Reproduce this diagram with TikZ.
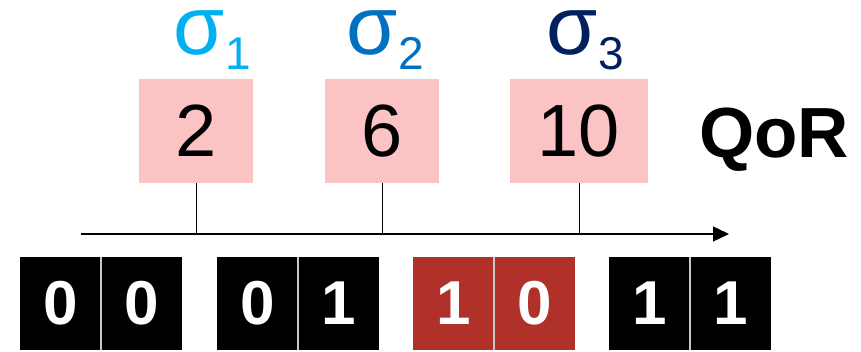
\documentclass[tikz,border=0pt]{standalone}
\usepackage{fontspec}
\setmainfont{Liberation Sans}
\usetikzlibrary{
  arrows.meta,
  positioning
}
\definecolor{qrSigA}{HTML}{00B0F0}
\definecolor{qrSigB}{HTML}{0070C0}
\definecolor{qrSigC}{HTML}{002060}
\definecolor{qrPink}{HTML}{FBC3C3}
\definecolor{qrRed}{HTML}{B0312A}
\definecolor{qrDiv}{HTML}{C8C8C8}
\tikzset{
  qorbox/.style={
    fill=qrPink, minimum width=114pt, minimum height=104pt, inner sep=0pt,
    font=\fontsize{74}{74}\selectfont
  },
  sigmalbl/.style={
    inner sep=0pt, anchor=base west, text height=44pt, text depth=15pt,
    font=\fontsize{83}{83}\selectfont
  },
  bitcell/.style={
    fill=black, text=white, minimum width=81pt, minimum height=93pt, inner sep=0pt,
    font=\fontsize{62}{62}\selectfont\bfseries
  },
  redcell/.style={bitcell, fill=qrRed},
  qrtick/.style={line width=1pt, black},
  divline/.style={line width=1.5pt, qrDiv},
  axisline/.style={-{Triangle[length=16pt, width=15pt]}, line width=1.3pt}
}
\newcommand{\sigsub}[1]{σ\kern1pt\raisebox{-15pt}{\fontsize{46}{46}\selectfont #1}}

\begin{document}
\begin{tikzpicture}[x=1pt, y=1pt, node distance=0pt]
  \useasboundingbox (0,0) rectangle (861,351);
  % QoR values
  \node[qorbox] (q1) at (196,220) {2};
  \node[qorbox] (q2) at (382,220) {6};
  \node[qorbox, minimum width=138pt] (q3) at (579,220) {10};
  \node[font=\fontsize{71}{71}\selectfont\bfseries, inner sep=0pt] (qor) at (774,211) {QoR};
  % sigma labels
  \node[sigmalbl, text=qrSigA] (s1) at (173,296) {\sigsub{1}};
  \node[sigmalbl, text=qrSigB] (s2) at (346,296) {\sigsub{2}};
  \node[sigmalbl, text=qrSigC] (s3) at (546,296) {\sigsub{3}};
  % axis and ticks
  \coordinate (axL) at (81,117);
  \coordinate (axR) at (729,117);
  \draw[axisline] (axL) -- (axR);
  \draw[qrtick] (q1.south) -- (q1.south |- axL);
  \draw[qrtick] (q2.south) -- (q2.south |- axL);
  \draw[qrtick] (q3.south) -- (q3.south |- axL);
  % bit pairs
  \node[bitcell] (b1a) at (60.5,47.5) {0};
  \node[bitcell, right=of b1a] (b1b) {0};
  \node[bitcell] (b2a) at (257.5,47.5) {0};
  \node[bitcell, right=of b2a] (b2b) {1};
  \node[redcell] (b3a) at (453.5,47.5) {1};
  \node[redcell, right=of b3a] (b3b) {0};
  \node[bitcell] (b4a) at (649.5,47.5) {1};
  \node[bitcell, right=of b4a] (b4b) {1};
  \foreach \c in {b1a,b2a,b3a,b4a}
    \draw[divline] (\c.north east) -- (\c.south east);
\end{tikzpicture}
\end{document}
